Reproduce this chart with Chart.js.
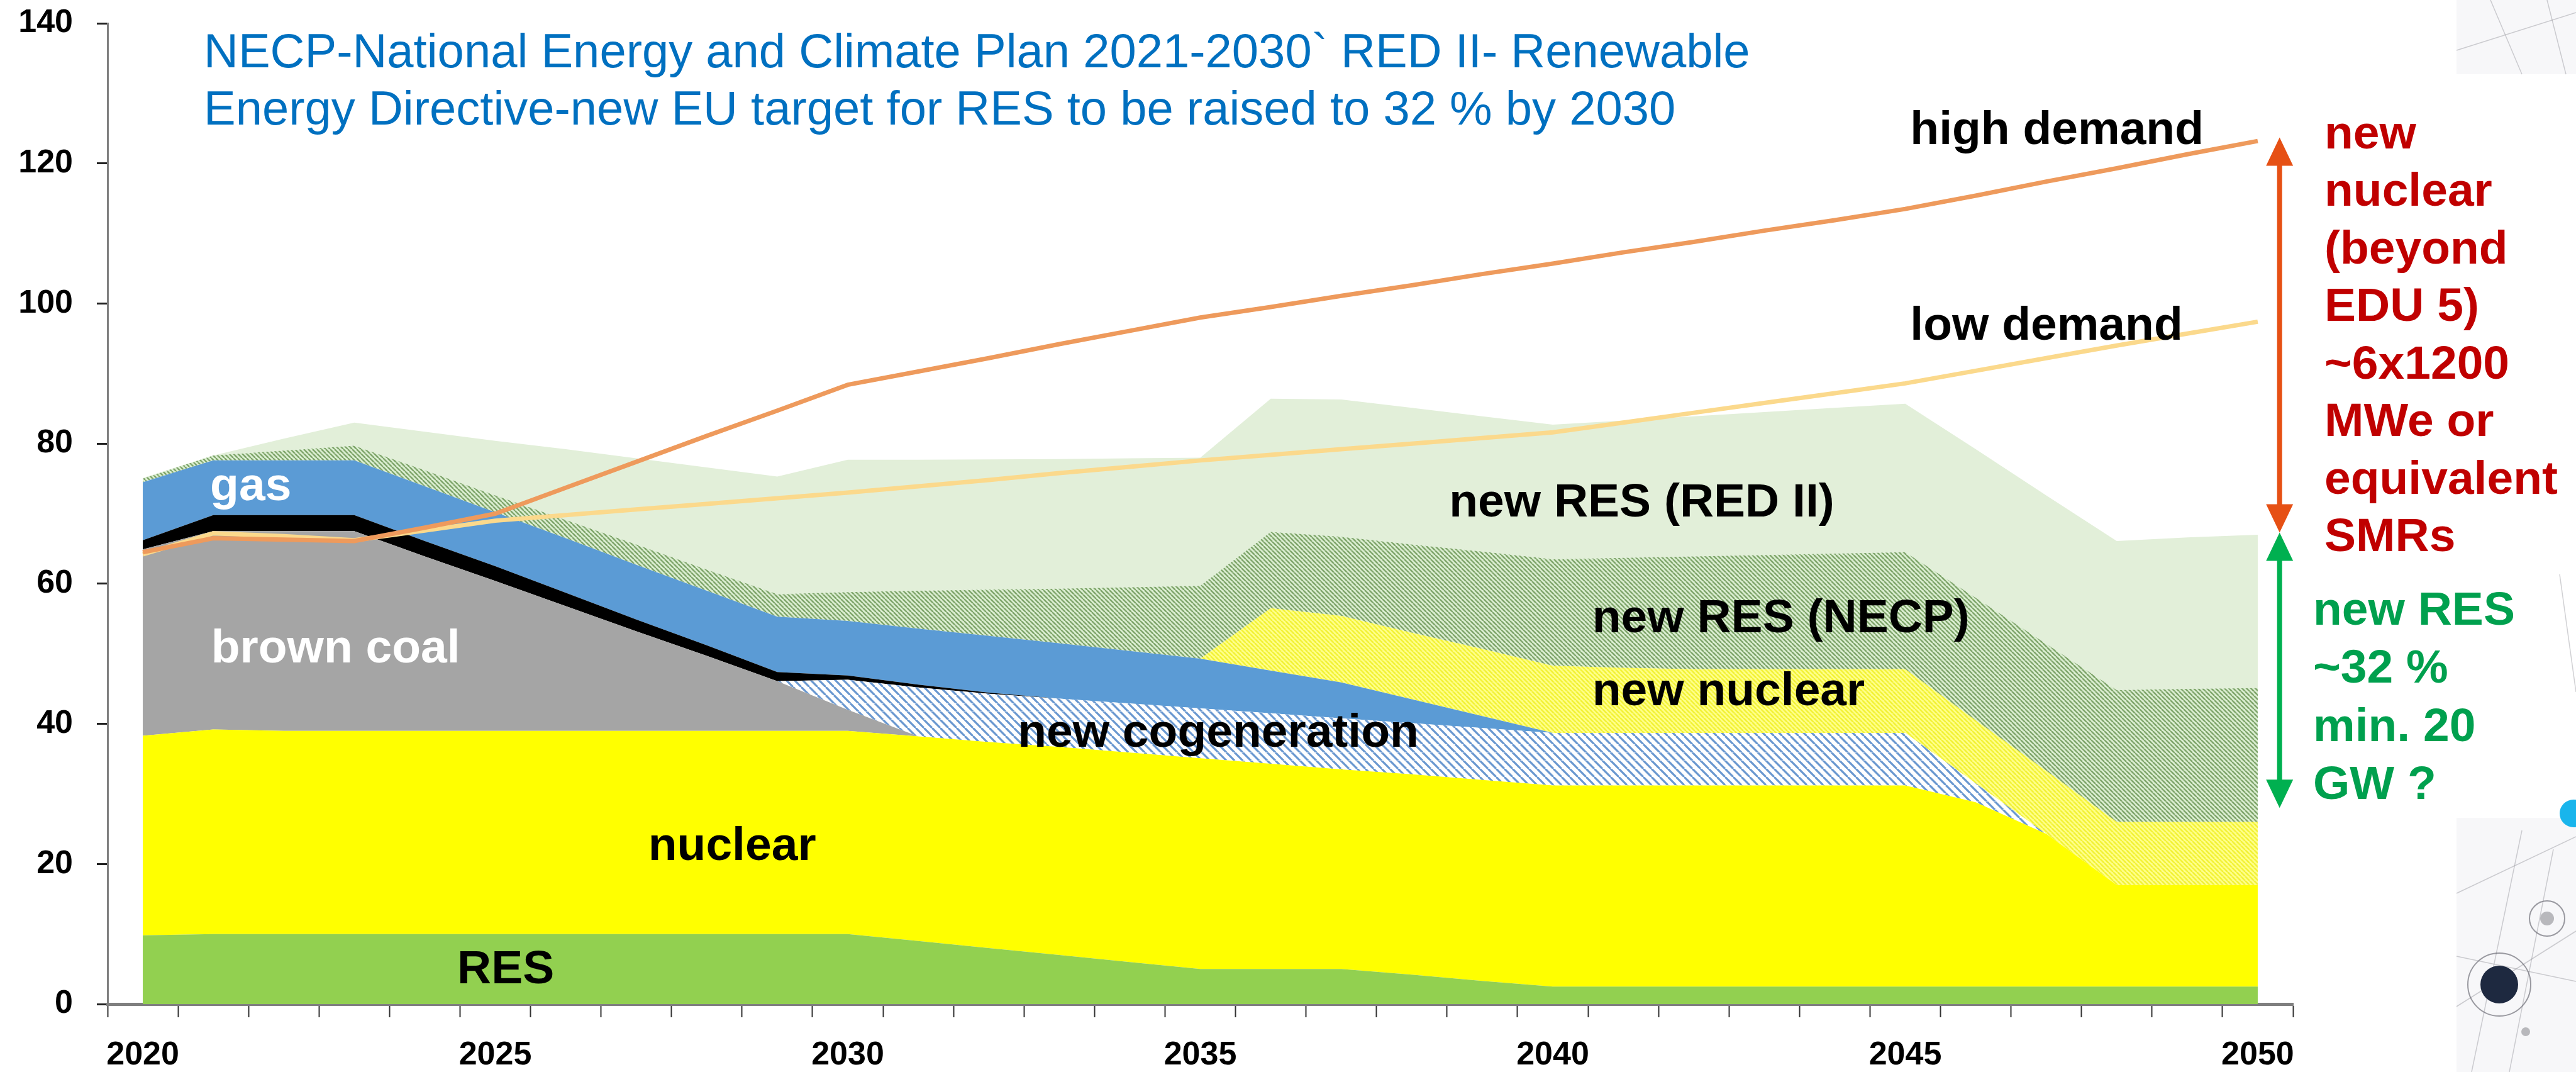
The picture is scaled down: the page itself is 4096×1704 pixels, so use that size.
<!DOCTYPE html>
<html>
<head>
<meta charset="utf-8">
<title>Electricity mix 2020-2050</title>
<script src="https://cdn.jsdelivr.net/npm/chart.js@4.4.1/dist/chart.umd.min.js"></script>
<style>
  html, body { margin: 0; padding: 0; background: #fff; }
  #wrap { position: relative; width: 4096px; height: 1704px; }
</style>
</head>
<body>
<div id="wrap"><canvas id="mix"></canvas></div>
<script>
// categories
const years = ['2020','2021','2022','2023','2024','2025','2026','2027','2028','2029',
  '2030','2031','2032','2033','2034','2035','2036','2037','2038','2039',
  '2040','2041','2042','2043','2044','2045','2046','2047','2048','2049','2050'];
const labelYears = ['2020','2025','2030','2035','2040','2045','2050'];

// stacked generation layers (bottom to top)
const res          = [9.8,10,10,10,10,10,10,10,10,10,10,9,8,7,6,5,5,5,4.2,3.3,2.5,2.5,2.5,2.5,2.5,2.5,2.5,2.5,2.5,2.5,2.5];
const nuclear      = [28.5,29.2,29,29,29,29,29,29,29,29,29,29.2,29.4,29.7,29.9,30.1,29.3,28.5,28.6,28.7,28.7,28.7,28.7,28.7,28.7,28.7,26.3,21.8,14.5,14.5,14.5];
const brownCoal    = [26.6,28.3,28.5,28.5,24.9,21.4,17.8,14.2,10.7,7.1,3.0,0,0,0,0,0,0,0,0,0,0,0,0,0,0,0,0,0,0,0,0];
const cogeneration = [0,0,0,0,0,0,0,0,0,0,4.3,7.0,6.9,6.9,7.0,7.1,7.2,7.3,7.3,7.4,7.5,7.5,7.5,7.5,7.5,7.5,2.7,0,0,0,0];
const blackCoal    = [1.3,2.3,2.3,2.3,2.2,2.1,1.9,1.7,1.5,1.3,0.6,0.4,0.15,0,0,0,0,0,0,0,0,0,0,0,0,0,0,0,0,0,0];
const gas          = [8.3,7.8,7.8,7.8,7.8,7.7,7.8,7.8,7.8,7.9,7.8,8.0,8.1,7.9,7.5,7.1,6.1,5.1,3.4,1.7,0,0,0,0,0,0,0,0,0,0,0];
const newNuclear   = [0,0,0,0,0,0,0,0,0,0,0,0,0,0,0,0,8.9,9.5,9.5,9.6,9.6,9.3,9.1,9.1,9.1,9.1,9.0,9.0,9.0,9.0,9.0];
const newResNecp   = [0.5,0.7,1.4,2.1,2.3,2.4,2.6,2.9,3.0,3.2,4.1,5.4,6.6,7.8,9.1,10.4,10.9,11.3,12.6,13.9,15.2,15.7,16.1,16.3,16.5,16.7,17.5,18.1,18.8,19.0,19.1];
const newResRed2   = [0.1,0,1.7,3.3,5.5,7.8,10.1,12.3,14.6,16.8,18.9,18.7,18.6,18.5,18.4,18.3,19.0,19.6,19.5,19.3,19.2,19.6,20.0,20.4,20.8,21.2,21.2,21.2,21.3,21.6,21.9];

// demand scenarios
const highDemand = [64.5,66.5,66.3,66.1,68.0,70.0,73.7,77.4,81.1,84.7,88.4,90.3,92.2,94.2,96.1,98.0,99.5,101.1,102.6,104.2,105.7,107.3,108.8,110.4,111.9,113.5,115.4,117.4,119.3,121.3,123.2];
const lowDemand  = [64.2,67.2,66.8,66.2,67.6,69.0,69.8,70.6,71.4,72.2,73.0,73.9,74.8,75.8,76.7,77.6,78.4,79.2,80.0,80.8,81.6,83.0,84.4,85.8,87.2,88.6,90.4,92.2,94.0,95.7,97.4];

// lower end of the "new RES" gap arrow
const newRes2050Bottom = 28.0;

const FONT = '"Liberation Sans", Arial, Helvetica, sans-serif';

// diagonal hatch ("\") used by Excel-like pattern fills
function stripes(bg, fg, size, width) {
  const c = document.createElement('canvas');
  c.width = size; c.height = size;
  const g = c.getContext('2d');
  g.fillStyle = bg;
  g.fillRect(0, 0, size, size);
  g.strokeStyle = fg;
  g.lineWidth = width;
  g.beginPath();
  for (const o of [-size, 0, size]) {
    g.moveTo(o, 0);
    g.lineTo(o + size, size);
  }
  g.stroke();
  return g.createPattern(c, 'repeat');
}

const necpFill   = stripes('#DCEFD2', '#7FA56B', 7, 2.4);
const cogenFill  = stripes('#FFFFFF', '#6A98D0', 13, 3.2);
const newNucFill = stripes('#FFFF8C', '#F2F236', 7, 2.6);

function area(label, data, fill, bg) {
  return {
    label, data, fill, backgroundColor: bg,
    borderColor: 'rgba(0,0,0,0)', borderWidth: 0,
    pointRadius: 0, tension: 0, stack: 'mix', order: 2
  };
}

function drawArrow(ctx, x, yTop, yBottom, color) {
  const head = 45, half = 21.5, shaft = 8;
  ctx.save();
  ctx.fillStyle = color;
  ctx.fillRect(x - shaft / 2, yTop + head - 2, shaft, yBottom - yTop - 2 * head + 4);
  ctx.beginPath();
  ctx.moveTo(x, yTop);
  ctx.lineTo(x + half, yTop + head);
  ctx.lineTo(x - half, yTop + head);
  ctx.closePath();
  ctx.fill();
  ctx.beginPath();
  ctx.moveTo(x, yBottom);
  ctx.lineTo(x + half, yBottom - head);
  ctx.lineTo(x - half, yBottom - head);
  ctx.closePath();
  ctx.fill();
  ctx.restore();
}

// slide background ornaments at the right edge
function drawOrnaments(ctx) {
  ctx.save();
  ctx.fillStyle = '#F7F7F9';
  ctx.fillRect(3906, 1300, 190, 404);
  ctx.fillRect(3906, 0, 190, 118);
  ctx.strokeStyle = 'rgba(120,120,130,0.35)';
  ctx.lineWidth = 1.5;
  const lines = [
    [3906, 1420, 4096, 1330], [3930, 1704, 4010, 1320], [3906, 1600, 4096, 1480],
    [3990, 1704, 4060, 1350], [3906, 1520, 4096, 1560], [3960, 0, 4010, 118],
    [3906, 80, 4096, 20], [4050, 0, 4080, 118], [4070, 913, 4096, 1100]
  ];
  lines.forEach(([a, b, c, d]) => { ctx.beginPath(); ctx.moveTo(a, b); ctx.lineTo(c, d); ctx.stroke(); });
  ctx.strokeStyle = 'rgba(90,90,100,0.6)';
  ctx.lineWidth = 2;
  ctx.beginPath(); ctx.arc(3974, 1565, 50, 0, Math.PI * 2); ctx.stroke();
  ctx.beginPath(); ctx.arc(4050, 1460, 28, 0, Math.PI * 2); ctx.stroke();
  ctx.fillStyle = '#1E2940';
  ctx.beginPath(); ctx.arc(3974, 1565, 30, 0, Math.PI * 2); ctx.fill();
  ctx.fillStyle = '#B8B8BC';
  ctx.beginPath(); ctx.arc(4050, 1460, 11, 0, Math.PI * 2); ctx.fill();
  ctx.beginPath(); ctx.arc(4016, 1640, 7, 0, Math.PI * 2); ctx.fill();
  ctx.fillStyle = '#19B5EC';
  ctx.beginPath(); ctx.arc(4092, 1293, 22, 0, Math.PI * 2); ctx.fill();
  ctx.restore();
}

const annotations = {
  id: 'annotations',
  afterDraw(chart) {
    const { ctx } = chart;
    const x = chart.scales.x, y = chart.scales.y;
    const last = years.length - 1;
    const supply2050 = [res, nuclear, brownCoal, cogeneration, blackCoal, gas, newNuclear, newResNecp, newResRed2]
      .reduce((s, arr) => s + arr[last], 0);

    drawOrnaments(ctx);

    // title
    ctx.save();
    ctx.fillStyle = '#0070C0';
    ctx.font = '76px ' + FONT;
    ctx.textBaseline = 'alphabetic';
    ctx.fillText('NECP-National Energy and Climate Plan 2021-2030` RED II- Renewable', 324, 107);
    ctx.fillText('Energy Directive-new EU target for RES to be raised to 32 % by 2030', 324, 198);
    ctx.restore();

    // layer and line labels, anchored in data space
    const labels = [
      ['gas', 0.955, 71.9, '#FFFFFF'],
      ['brown coal', 0.97, 48.75, '#FFFFFF'],
      ['nuclear', 7.17, 20.56, '#000000'],
      ['RES', 4.46, 2.96, '#000000'],
      ['new cogeneration', 12.41, 36.72, '#000000'],
      ['new RES (RED II)', 18.53, 69.58, '#000000'],
      ['new RES (NECP)', 20.56, 53.06, '#000000'],
      ['new nuclear', 20.56, 42.65, '#000000'],
      ['high demand', 25.07, 122.8, '#000000'],
      ['low demand', 25.07, 94.8, '#000000']
    ];
    ctx.save();
    ctx.font = 'bold 75px ' + FONT;
    ctx.textBaseline = 'alphabetic';
    labels.forEach(([t, xi, v, c]) => {
      ctx.fillStyle = c;
      ctx.fillText(t, x.getPixelForValue(xi), y.getPixelForValue(v));
    });
    ctx.restore();

    // gap arrows
    const ax = x.getPixelForValue(last + 0.31);
    drawArrow(ctx, ax, y.getPixelForValue(highDemand[last] + 0.5), y.getPixelForValue(supply2050 + 0.3), '#E65014');
    drawArrow(ctx, ax, y.getPixelForValue(supply2050 + 0.3), y.getPixelForValue(newRes2050Bottom), '#00B050');

    ctx.save();
    ctx.font = 'bold 75px ' + FONT;
    ctx.textBaseline = 'alphabetic';
    ctx.fillStyle = '#C00000';
    ['new', 'nuclear', '(beyond', 'EDU 5)', '~6x1200', 'MWe or', 'equivalent', 'SMRs']
      .forEach((t, i) => ctx.fillText(t, 3696, 235.6 + i * 91.5));
    ctx.fillStyle = '#00A04E';
    ['new RES', '~32 %', 'min. 20', 'GW ?']
      .forEach((t, i) => ctx.fillText(t, 3678, 993 + i * 92.3));
    ctx.restore();
  }
};

new Chart(document.getElementById('mix'), {
  type: 'line',
  data: {
    labels: years,
    datasets: [
      { label: 'high demand', data: highDemand, borderColor: '#EE9A5C', borderWidth: 7, fill: false,
        pointRadius: 0, tension: 0, stack: 'high', order: 0 },
      { label: 'low demand', data: lowDemand, borderColor: '#FBD98C', borderWidth: 7, fill: false,
        pointRadius: 0, tension: 0, stack: 'low', order: 1 },
      area('RES', res, 'origin', '#92D050'),
      area('nuclear', nuclear, '-1', '#FFFF00'),
      area('brown coal', brownCoal, '-1', '#A5A5A5'),
      area('new cogeneration', cogeneration, '-1', cogenFill),
      area('black coal', blackCoal, '-1', '#000000'),
      area('gas', gas, '-1', '#5B9BD5'),
      area('new nuclear', newNuclear, '-1', newNucFill),
      area('new RES (NECP)', newResNecp, '-1', necpFill),
      area('new RES (RED II)', newResRed2, '-1', '#E2EFD9')
    ]
  },
  options: {
    responsive: true,
    maintainAspectRatio: false,
    animation: false,
    devicePixelRatio: 1,
    layout: { padding: { top: 37, right: 450, bottom: 0, left: 0 } },
    plugins: { legend: { display: false }, tooltip: { enabled: false } },
    scales: {
      x: {
        type: 'category',
        offset: true,
        grid: { offset: true, drawOnChartArea: false, tickLength: 21, tickWidth: 2, tickColor: '#333333' },
        border: { color: '#7F7F7F', width: 5 },
        ticks: {
          autoSkip: false, maxRotation: 0, minRotation: 0, padding: 29, color: '#000000',
          font: { family: FONT, size: 52, weight: 'bold' },
          callback: (v, i) => labelYears.includes(years[i]) ? years[i] : ''
        },
        afterFit: s => { s.height = 108; }
      },
      y: {
        stacked: true,
        min: 0, max: 140,
        grid: { drawOnChartArea: false, tickLength: 17, tickWidth: 3, tickColor: '#222222' },
        border: { color: '#808080', width: 3 },
        ticks: { stepSize: 20, padding: 38, color: '#000000', font: { family: FONT, size: 52, weight: 'bold' } },
        // fixed axis width; the layout padding already leaves room for the top label
        afterFit: s => { s.width = 171; s.paddingTop = 0; s.paddingBottom = 0; }
      }
    }
  },
  plugins: [annotations]
});
</script>
</body>
</html>
